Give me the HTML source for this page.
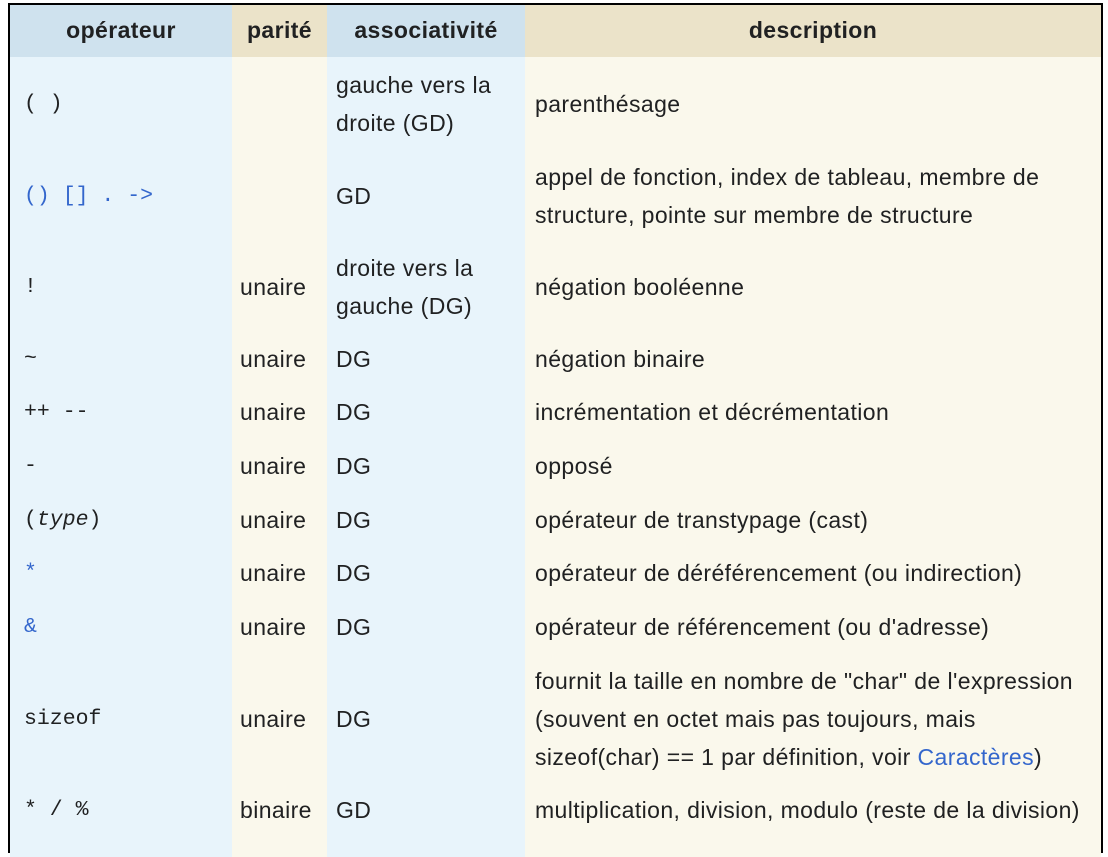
<!DOCTYPE html>
<html><head><meta charset="utf-8"><style>
html,body{margin:0;padding:0;background:#fff;width:1108px;height:846px;overflow:hidden}
.bg{position:absolute}
.t{position:absolute;font-family:"Liberation Sans",Arial,sans-serif;font-size:23px;letter-spacing:0.4px;color:#202122;white-space:nowrap;line-height:38px;transform:translateY(-50%)}
.m{font-family:"Liberation Mono","DejaVu Sans Mono",monospace;font-size:21.5px;letter-spacing:0}
.h{font-weight:bold;text-align:center}
.l{color:#3366cc}
</style></head><body>
<div class="bg" style="left:8px;top:3px;width:1095px;height:850px;background:#000"></div>
<div class="bg" style="left:10px;top:5px;width:222px;height:52px;background:#cfe2ee"></div>
<div class="bg" style="left:232px;top:5px;width:95px;height:52px;background:#ebe3c9"></div>
<div class="bg" style="left:327px;top:5px;width:198px;height:52px;background:#cfe2ee"></div>
<div class="bg" style="left:525px;top:5px;width:576px;height:52px;background:#ebe3c9"></div>
<div class="bg" style="left:10px;top:57px;width:222px;height:800px;background:#e8f4fb"></div>
<div class="bg" style="left:232px;top:57px;width:95px;height:800px;background:#faf8ec"></div>
<div class="bg" style="left:327px;top:57px;width:198px;height:800px;background:#e8f4fb"></div>
<div class="bg" style="left:525px;top:57px;width:576px;height:800px;background:#faf8ec"></div>

<div class="t h" style="left:10px;width:222px;top:30px">opérateur</div>
<div class="t h" style="left:232px;width:95px;top:30px">parité</div>
<div class="t h" style="left:327px;width:198px;top:30px">associativité</div>
<div class="t h" style="left:525px;width:576px;top:30px">description</div>

<div class="t m" style="left:24px;top:104px">( )</div>
<div class="t" style="left:336px;top:104px">gauche vers la<br>droite (GD)</div>
<div class="t" style="left:535px;top:104px">parenthésage</div>

<div class="t m l" style="left:24px;top:196px">() [] . -&gt;</div>
<div class="t" style="left:336px;top:196px">GD</div>
<div class="t" style="left:535px;top:196px">appel de fonction, index de tableau, membre de<br>structure, pointe sur membre de structure</div>

<div class="t m" style="left:24px;top:287px">!</div>
<div class="t" style="left:240px;top:287px">unaire</div>
<div class="t" style="left:336px;top:287px">droite vers la<br>gauche (DG)</div>
<div class="t" style="left:535px;top:287px">négation booléenne</div>

<div class="t m" style="left:24px;top:359px">~</div>
<div class="t" style="left:240px;top:359px">unaire</div>
<div class="t" style="left:336px;top:359px">DG</div>
<div class="t" style="left:535px;top:359px">négation binaire</div>

<div class="t m" style="left:24px;top:412px">++ --</div>
<div class="t" style="left:240px;top:412px">unaire</div>
<div class="t" style="left:336px;top:412px">DG</div>
<div class="t" style="left:535px;top:412px">incrémentation et décrémentation</div>

<div class="t m" style="left:24px;top:466px">-</div>
<div class="t" style="left:240px;top:466px">unaire</div>
<div class="t" style="left:336px;top:466px">DG</div>
<div class="t" style="left:535px;top:466px">opposé</div>

<div class="t m" style="left:24px;top:520px">(<i>type</i>)</div>
<div class="t" style="left:240px;top:520px">unaire</div>
<div class="t" style="left:336px;top:520px">DG</div>
<div class="t" style="left:535px;top:520px">opérateur de transtypage (cast)</div>

<div class="t m l" style="left:24px;top:573px">*</div>
<div class="t" style="left:240px;top:573px">unaire</div>
<div class="t" style="left:336px;top:573px">DG</div>
<div class="t" style="left:535px;top:573px">opérateur de déréférencement (ou indirection)</div>

<div class="t m l" style="left:24px;top:627px">&amp;</div>
<div class="t" style="left:240px;top:627px">unaire</div>
<div class="t" style="left:336px;top:627px">DG</div>
<div class="t" style="left:535px;top:627px">opérateur de référencement (ou d'adresse)</div>

<div class="t m" style="left:24px;top:719px">sizeof</div>
<div class="t" style="left:240px;top:719px">unaire</div>
<div class="t" style="left:336px;top:719px">DG</div>
<div class="t" style="left:535px;top:719px">fournit la taille en nombre de "char" de l'expression<br>(souvent en octet mais pas toujours, mais<br>sizeof(char) == 1 par définition, voir <span class="l">Caractères</span>)</div>

<div class="t m" style="left:24px;top:810px">* / %</div>
<div class="t" style="left:240px;top:810px">binaire</div>
<div class="t" style="left:336px;top:810px">GD</div>
<div class="t" style="left:535px;top:810px">multiplication, division, modulo (reste de la division)</div>
</body></html>
